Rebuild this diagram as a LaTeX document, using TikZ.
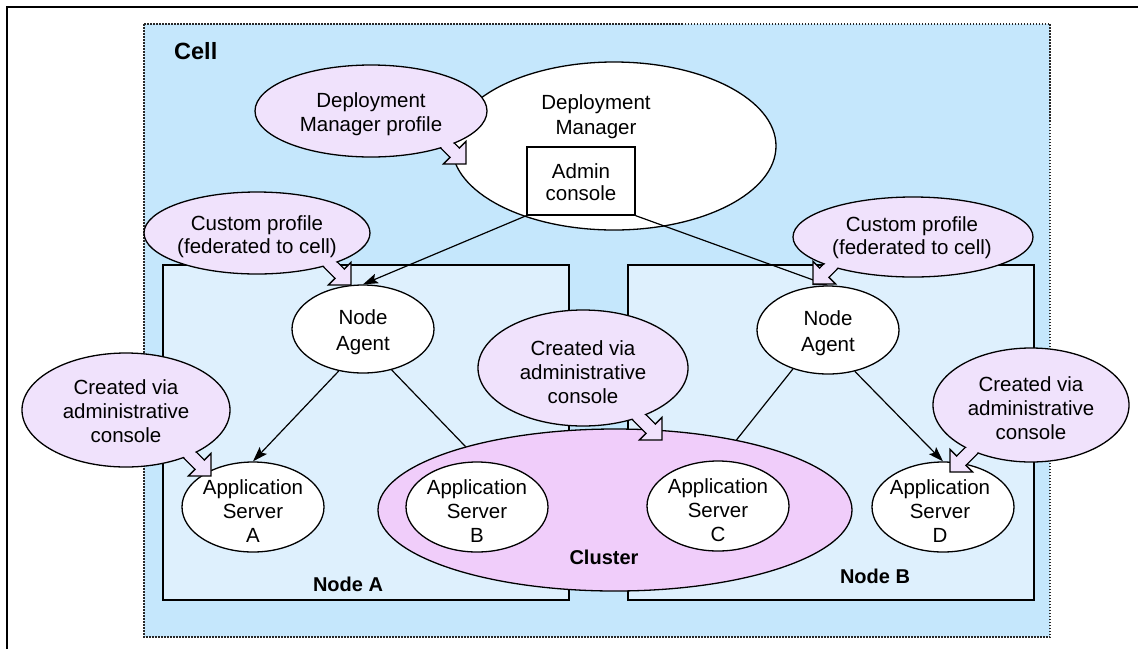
\documentclass[tikz,border=0pt]{standalone}
\usepackage{fontspec}
\setmainfont{Liberation Sans}
\usetikzlibrary{shapes.geometric,arrows.meta}
\definecolor{cellfill}{RGB}{197,231,252}
\definecolor{boxfill}{RGB}{222,240,253}
\definecolor{callfill}{RGB}{240,226,252}
\definecolor{clusterfill}{RGB}{240,205,250}
\definecolor{dotgray}{RGB}{40,40,40}
\newcommand{\calloutpointer}[2]{%
  \begin{scope}[shift={(#1)}, rotate=#2]
    \draw[ptrline] (0,0) -- (-16,-16) -- (-16,-6.5) -- (-45,-6.5) -- (-45,6.5) -- (-16,6.5) -- (-16,16) -- cycle;
  \end{scope}}
\newcommand{\calloutpatch}[2]{%
  \begin{scope}[shift={(#1)}, rotate=#2]
    \fill[callfill] (-16.5,-5.6) rectangle (-44,5.6);
  \end{scope}}
\begin{document}
\begin{tikzpicture}[x=1pt,y=-1pt,
  txt/.style={font=\fontsize{20.5}{24}\selectfont, align=center, inner sep=0pt},
  boldlbl/.style={font=\fontsize{20}{24}\selectfont\bfseries, inner sep=0pt},
  oval/.style={ellipse, draw=black, line width=1.3pt, fill=white, inner sep=0pt},
  callout/.style={ellipse, draw=black, line width=1.3pt, fill=callfill, inner sep=0pt},
  ptrline/.style={draw=black, line width=1.3pt, fill=callfill, line join=miter},
  conn/.style={draw=black, line width=1.2pt},
  arr/.style={conn, -{Stealth[length=15pt,width=10pt,inset=3pt]}},
  hostbox/.style={draw=black, line width=1.5pt, fill=boxfill},
  cellbox/.style={draw=dotgray, line width=1.8pt, dash pattern=on 1.5pt off 1.5pt, fill=cellfill}
]
\useasboundingbox (0,0) rectangle (1138,649);
\fill[white] (0,0) rectangle (1138,649);
\draw[line width=2pt] (7,649) -- (7,7) -- (1138,7);

% cell
\draw[cellbox] (144,24) rectangle (1050,637);
\node[boldlbl, font=\fontsize{23.5}{28}\selectfont\bfseries, anchor=base west] (celllbl) at (174,59) {Cell};

% node boxes
\draw[hostbox] (163,265) rectangle (569,600);
\draw[hostbox] (628,265) rectangle (1034,600);

% deployment manager
\node[oval, minimum width=324pt, minimum height=168pt] (dm) at (614,146) {};
\node[txt, font=\fontsize{20.5}{25}\selectfont] (dmtxt) at (596,117) {Deployment\\Manager};
\node[draw=black, line width=1.3pt, fill=white, minimum width=108pt, minimum height=68pt, inner sep=0pt] (ac) at (581,181) {};
\node[txt, font=\fontsize{20.5}{22}\selectfont] (actxt) at (581,182) {Admin\\console};

% cluster
\node[ellipse, draw=black, line width=1.3pt, fill=clusterfill, inner sep=0pt, minimum width=474pt, minimum height=162pt] (cl) at (615,510) {};
\node[boldlbl] (cllbl) at (604,557) {Cluster};

% node agents
\node[oval, minimum width=142pt, minimum height=88pt] (naA) at (363,329) {};
\node[txt, font=\fontsize{20.5}{26}\selectfont] (naAtxt) at (363,332) {Node\\Agent};
\node[oval, minimum width=142pt, minimum height=88pt] (naB) at (828,330) {};
\node[txt, font=\fontsize{20.5}{26}\selectfont] (naBtxt) at (828,333) {Node\\Agent};

% application servers
\node[oval, minimum width=142pt, minimum height=90pt] (asA) at (253,507) {};
\node[txt] (asAtxt) at (253,511) {Application\\Server\\A};
\node[oval, minimum width=142pt, minimum height=90pt] (asB) at (477,507) {};
\node[txt] (asBtxt) at (477,511) {Application\\Server\\B};
\node[oval, minimum width=142pt, minimum height=90pt] (asC) at (718,506) {};
\node[txt] (asCtxt) at (718,510) {Application\\Server\\C};
\node[oval, minimum width=142pt, minimum height=90pt] (asD) at (943,507) {};
\node[txt] (asDtxt) at (940,511) {Application\\Server\\D};

% connectors
\draw[arr] (ac.south west) -- (naA.north);
\draw[arr] (ac.south east) -- (naB.north);
\draw[arr] (naA.240) -- (asA.north);
\draw[conn] (naA.-55) -- (cl.157);
\draw[conn] (naB.228) -- (cl.30);
\draw[arr] (naB.-57) -- (asD.north);

% node labels
\node[boldlbl, anchor=base] (nodeAlbl) at (348,591) {Node A};
\node[boldlbl, anchor=base] (nodeBlbl) at (875,583) {Node B};

% callouts
\coordinate (t1) at (466,164);
\calloutpointer{t1}{-45}
\node[callout, minimum width=232pt, minimum height=92pt] (c1) at (371,111) {};
\calloutpatch{t1}{-45}
\node[txt] (c1txt) at (371,114) {Deployment\\Manager profile};

\coordinate (t2) at (351,285);
\calloutpointer{t2}{-45}
\node[callout, minimum width=226pt, minimum height=82pt] (c2) at (257,233) {};
\calloutpatch{t2}{-45}
\node[txt, font=\fontsize{20.5}{23}\selectfont] (c2txt) at (257,237) {Custom profile\\(federated to cell)};

\coordinate (t3) at (813,284);
\calloutpointer{t3}{-135}
\node[callout, minimum width=240pt, minimum height=80pt] (c3) at (913,237) {};
\calloutpatch{t3}{-135}
\node[txt, font=\fontsize{20.5}{23}\selectfont] (c3txt) at (912,238) {Custom profile\\(federated to cell)};

\coordinate (t4) at (211,476);
\calloutpointer{t4}{-45}
\node[callout, minimum width=208pt, minimum height=114pt] (c4) at (126,410) {};
\calloutpatch{t4}{-45}
\node[txt] (c4txt) at (126,411) {Created via\\administrative\\console};

\coordinate (t5) at (662,440);
\calloutpointer{t5}{-45}
\node[callout, minimum width=210pt, minimum height=116pt] (c5) at (583,368) {};
\calloutpatch{t5}{-45}
\node[txt] (c5txt) at (583,372) {Created via\\administrative\\console};

\coordinate (t6) at (950,472);
\calloutpointer{t6}{-135}
\node[callout, minimum width=196pt, minimum height=114pt] (c6) at (1031,405) {};
\calloutpatch{t6}{-135}
\node[txt] (c6txt) at (1031,408) {Created via\\administrative\\console};
\end{tikzpicture}
\end{document}
